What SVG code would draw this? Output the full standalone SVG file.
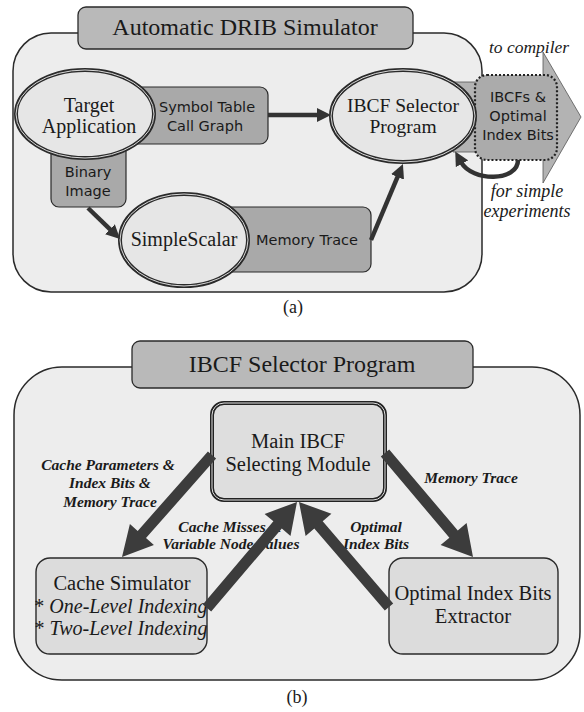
<svg xmlns="http://www.w3.org/2000/svg" width="584" height="712" viewBox="0 0 584 712">
<defs>
<style>
.serif{font-family:"Liberation Serif","Times New Roman",serif;fill:#1a1a1a;text-anchor:middle}
.sans{font-family:"DejaVu Sans","Liberation Sans",sans-serif;fill:#1a1a1a;text-anchor:middle;font-size:14.5px}
.it{font-style:italic}
.lbl{font-family:"Liberation Serif","Times New Roman",serif;font-style:italic;font-weight:bold;font-size:15.5px;fill:#1a1a1a;text-anchor:middle}
.outer{fill:#ededed;stroke:#2a2a2a;stroke-width:1.5}
.title{fill:#b9b9b9;stroke:#2a2a2a;stroke-width:1.3}
.dark{fill:#a9a9a9;stroke:#2a2a2a;stroke-width:1.2}
.ell{fill:#e6e6e6;stroke:#2a2a2a;stroke-width:4}
.ellin{fill:none;stroke:#d8d8d8;stroke-width:1}
.box{fill:#dcdcdc;stroke:#2a2a2a;stroke-width:1.4}
.line{fill:none;stroke:#333;stroke-width:4.5}
.block{fill:#3c3c3c}
</style>
<marker id="ah" markerUnits="userSpaceOnUse" markerWidth="16" markerHeight="14" refX="2" refY="7" orient="auto">
<path d="M0,0 L14,7 L0,14 z" fill="#333"/>
</marker>
</defs>

<!-- ===== Part (a) ===== -->
<g id="simulator-frame">
<rect class="outer" x="13" y="33" width="469" height="259" rx="38"/>
<rect class="title" x="78" y="7" width="335" height="42" rx="8"/>
<text class="serif" x="245" y="35" font-size="24">Automatic DRIB Simulator</text>
</g>

<g id="output-arrow">
<polygon points="453,82 543,82 543,52 581,117 543,183 543,152 453,152" fill="#b3b3b3" stroke="#555" stroke-width="0.8"/>
<rect x="475" y="75" width="82" height="85" rx="12" fill="#ababab" stroke="#222" stroke-width="2.2" stroke-dasharray="2 2"/>
<text class="sans" x="518" y="102">IBCFs &amp;</text>
<text class="sans" x="518" y="121">Optimal</text>
<text class="sans" x="518" y="140">Index Bits</text>
</g>

<g id="symbol-table">
<rect class="dark" x="120" y="87" width="148" height="57" rx="8"/>
<text class="sans" x="207" y="112">Symbol Table</text>
<text class="sans" x="205" y="131">Call Graph</text>
</g>

<g id="binary-image">
<rect class="dark" x="51" y="130" width="75" height="77" rx="8"/>
<text class="sans" x="88" y="177">Binary</text>
<text class="sans" x="88" y="196">Image</text>
</g>

<g id="memory-trace">
<rect class="dark" x="215" y="207" width="156" height="65" rx="8"/>
<text class="sans" x="307" y="245">Memory Trace</text>
</g>

<g id="target-application">
<ellipse class="ell" cx="85" cy="114" rx="69" ry="44"/>
<ellipse class="ellin" cx="85" cy="114" rx="69" ry="44"/>
<text class="serif" x="89" y="112" font-size="20">Target</text>
<text class="serif" x="89" y="133" font-size="20">Application</text>
</g>

<g id="simplescalar">
<ellipse class="ell" cx="184" cy="240" rx="64" ry="46"/>
<ellipse class="ellin" cx="184" cy="240" rx="64" ry="46"/>
<text class="serif" x="184" y="246" font-size="20">SimpleScalar</text>
</g>

<g id="ibcf-selector">
<ellipse class="ell" cx="403" cy="116" rx="72" ry="46"/>
<ellipse class="ellin" cx="403" cy="116" rx="72" ry="46"/>
<text class="serif" x="403" y="112" font-size="19.5">IBCF Selector</text>
<text class="serif" x="403" y="133" font-size="19.5">Program</text>
</g>

<g id="connectors-a">
<line class="line" x1="88" y1="208" x2="111.4" y2="230.6" marker-end="url(#ah)"/>
<line class="line" x1="268" y1="115" x2="319" y2="115" marker-end="url(#ah)"/>
<line class="line" x1="371" y1="240" x2="398.3" y2="175.1" marker-end="url(#ah)"/>
<path class="line" d="M518,160 C518,182 472,182 461,162" marker-end="url(#ah)"/>
<text class="serif it" x="529" y="53" font-size="17.5">to compiler</text>
<text class="serif it" x="527" y="197" font-size="18">for simple</text>
<text class="serif it" x="527" y="217" font-size="18">experiments</text>
</g>

<text class="serif" x="293" y="313" font-size="18">(a)</text>

<!-- ===== Part (b) ===== -->
<g id="selector-frame">
<rect class="outer" x="14" y="367" width="566" height="313" rx="48"/>
<rect class="title" x="132" y="341" width="341" height="47" rx="8"/>
<text class="serif" x="302" y="372" font-size="24">IBCF Selector Program</text>
</g>

<g id="main-module">
<rect x="212" y="403" width="173" height="97" rx="12" fill="#dedede" stroke="#222" stroke-width="4"/>
<rect x="212" y="403" width="173" height="97" rx="12" fill="none" stroke="#e0e0e0" stroke-width="1"/>
<text class="serif" x="298" y="448" font-size="20.5">Main IBCF</text>
<text class="serif" x="298" y="471" font-size="20.5">Selecting Module</text>
</g>

<g id="cache-simulator">
<rect class="box" x="36" y="558" width="171" height="96" rx="14"/>
<text class="serif" x="122" y="590" font-size="20.5">Cache Simulator</text>
<text class="serif" x="121" y="613" font-size="20">* <tspan font-style="italic">One-Level Indexing</tspan></text>
<text class="serif" x="121" y="635" font-size="20">* <tspan font-style="italic">Two-Level Indexing</tspan></text>
</g>

<g id="index-bits-extractor">
<rect class="box" x="389" y="558" width="169" height="96" rx="14"/>
<text class="serif" x="473" y="600" font-size="20.5">Optimal Index Bits</text>
<text class="serif" x="473" y="623" font-size="20.5">Extractor</text>
</g>

<g id="connectors-b">
<text class="lbl" x="108" y="470">Cache Parameters &amp;</text>
<text class="lbl" x="110" y="488">Index Bits &amp;</text>
<text class="lbl" x="110" y="507">Memory Trace</text>
<text class="lbl" x="471" y="483">Memory Trace</text>
<text class="lbl" x="230" y="532">Cache Misses &amp;</text>
<text class="lbl" x="231" y="549">Variable Node Values</text>
<text class="lbl" x="376" y="532">Optimal</text>
<text class="lbl" x="376" y="549">Index Bits</text>
<polygon class="block" points="207.9,451.4 137.7,530.9 129.9,523.9 122,557 153.9,545.1 146,538.1 216.1,458.6"/>
<polygon class="block" points="211.2,611.6 281.8,528.4 290.5,535.9 297,502 264.6,513.9 273.4,521.3 202.8,604.4"/>
<polygon class="block" points="393.2,603.4 322.7,521.2 331.4,513.7 299,502 305.6,535.9 314.3,528.4 384.8,610.6"/>
<polygon class="block" points="380.8,456.6 449.4,537.7 440.6,545.1 473,557 466.6,523.1 457.8,530.5 389.2,449.4"/>
</g>

<text class="serif" x="297" y="703" font-size="18">(b)</text>
</svg>
